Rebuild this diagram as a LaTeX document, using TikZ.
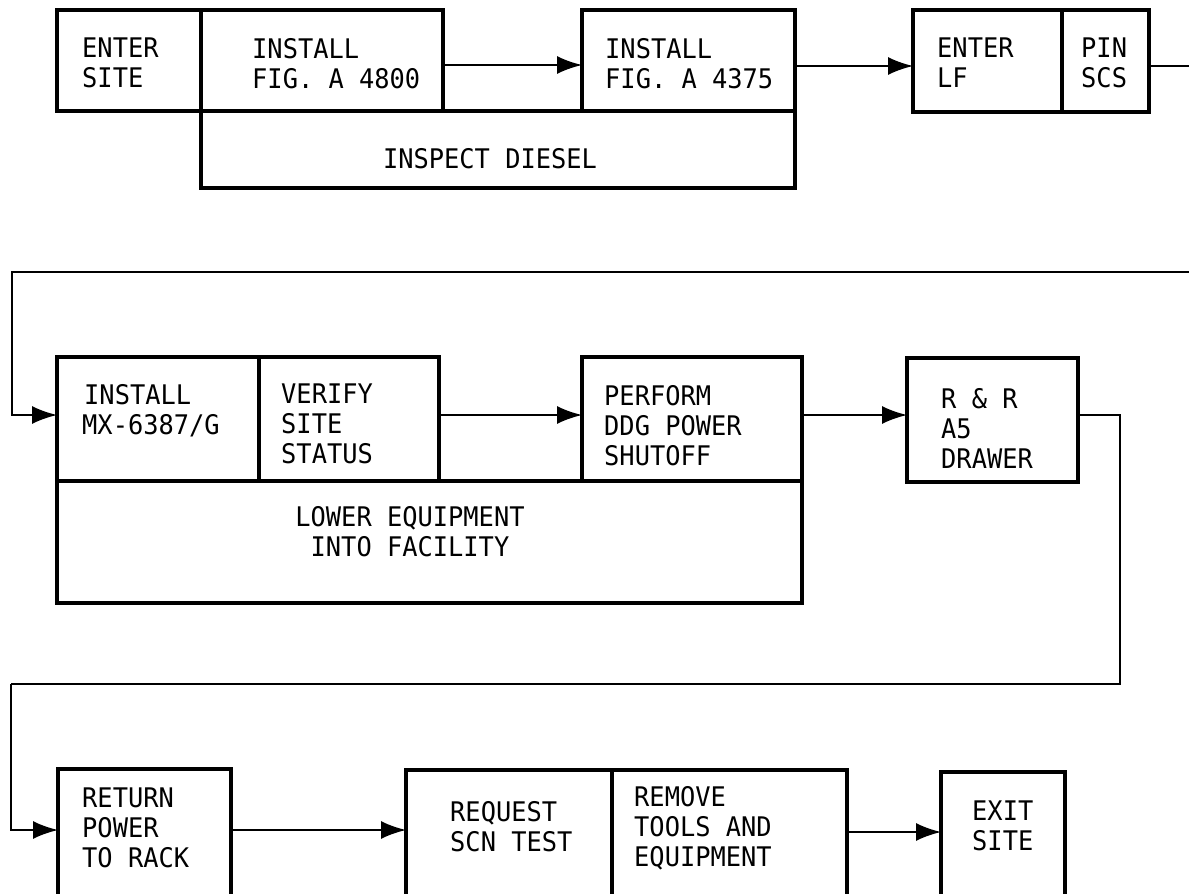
\documentclass[tikz,border=0pt]{standalone}
\usepackage{fontspec}
\newfontfamily\lblfont[FakeStretch=0.94]{DejaVu Sans Mono}
\usetikzlibrary{arrows.meta,calc}
\begin{document}
\begin{tikzpicture}[x=1pt,y=-1pt,
  boxs/.style={draw, line width=3.2pt, rectangle, inner sep=0pt, outer sep=0pt, anchor=north west},
  lbl/.style={font=\lblfont\fontsize{27}{30}\selectfont, align=left, inner sep=0pt, anchor=north west},
  conn/.style={line width=2pt},
  arr/.style={conn, -{Latex[length=25pt,width=18pt]}}]
\useasboundingbox (0,0) rectangle (1189,894);
\clip (0,0) rectangle (1189,894);
% ---- row 1 boxes
\node[boxs, minimum width=144pt, minimum height=101pt] (es) at (57,10) {};
\node[boxs, minimum width=242pt, minimum height=101pt] (i48) at (201,10) {};
\node[boxs, minimum width=213pt, minimum height=101pt] (i43) at (582,10) {};
\node[boxs, minimum width=594pt, minimum height=77pt] (insp) at (201,111) {};
\node[boxs, minimum width=149pt, minimum height=102pt] (lf) at (913,10) {};
\node[boxs, minimum width=87pt, minimum height=102pt] (pin) at (1062,10) {};
% ---- row 2 boxes
\node[boxs, minimum width=202pt, minimum height=124pt] (mx) at (57,357) {};
\node[boxs, minimum width=180pt, minimum height=124pt] (ver) at (259,357) {};
\node[boxs, minimum width=220pt, minimum height=124pt] (perf) at (582,357) {};
\node[boxs, minimum width=745pt, minimum height=122pt] (low) at (57,481) {};
\node[boxs, minimum width=171pt, minimum height=124pt] (rr) at (907,358) {};
% ---- row 3 boxes
\node[boxs, minimum width=173pt, minimum height=140pt] (ret) at (58,769) {};
\node[boxs, minimum width=206pt, minimum height=140pt] (req) at (406,770) {};
\node[boxs, minimum width=235pt, minimum height=140pt] (rem) at (612,770) {};
\node[boxs, minimum width=124pt, minimum height=140pt] (exit) at (941,772) {};
% ---- texts
\node[lbl] (tes) at (82,38) {ENTER\\SITE};
\node[lbl] (ti48) at (252,38) {INSTALL\\FIG. A 4800};
\node[lbl] (ti43) at (605,38) {INSTALL\\FIG. A 4375};
\node[lbl, anchor=north] (tinsp) at (490,148) {INSPECT DIESEL};
\node[lbl] (tlf) at (937,38) {ENTER\\LF};
\node[lbl] (tpin) at (1081,38) {PIN\\SCS};
\node[lbl] (tmx) at (82,384) {\hspace*{2pt}INSTALL\\MX-6387/G};
\node[lbl] (tver) at (281,384) {VERIFY\\SITE\\STATUS};
\node[lbl] (tperf) at (604,385) {PERFORM\\DDG POWER\\SHUTOFF};
\node[lbl, anchor=north, align=center] (tlow) at (410,506) {LOWER EQUIPMENT\\INTO FACILITY};
\node[lbl] (trr) at (941,388) {R \& R\\A5\\DRAWER};
\node[lbl] (tret) at (82,788) {RETURN\\POWER\\TO RACK};
\node[lbl] (treq) at (450,801) {REQUEST\\SCN TEST};
\node[lbl] (trem) at (634,786) {REMOVE\\TOOLS AND\\EQUIPMENT};
\node[lbl] (texit) at (972,801) {EXIT\\SITE};
% ---- edge coordinates
\coordinate (r1) at (1189,66);
\coordinate (r2) at (1189,272);
\coordinate (l2) at (12,272);
\coordinate (rr1) at (1120,684);
\coordinate (l3) at (11,684);
% ---- connectors
\draw[arr] ($(i48.north east)+(0,55)$) -- ($(i43.north west)+(0,55)$);
\draw[arr] ($(i43.north east)+(0,56)$) -- ($(lf.north west)+(0,56)$);
\draw[conn] ($(pin.north east)+(0,56)$) -- (r1);
\draw[arr] (r2) -- (l2) |- ($(mx.north west)+(0,58)$);
\draw[arr] ($(ver.north east)+(0,58)$) -- ($(perf.north west)+(0,58)$);
\draw[arr] ($(perf.north east)+(0,58)$) -- ($(rr.north west)+(0,57)$);
\draw[conn] ($(rr.north east)+(0,57)$) -| (rr1) -- (l3);
\draw[arr] (l3) |- ($(ret.north west)+(0,61)$);
\draw[arr] ($(ret.north east)+(0,61)$) -- ($(req.north west)+(0,60)$);
\draw[arr] ($(rem.north east)+(0,62)$) -- ($(exit.north west)+(0,60)$);
\end{tikzpicture}
\end{document}
